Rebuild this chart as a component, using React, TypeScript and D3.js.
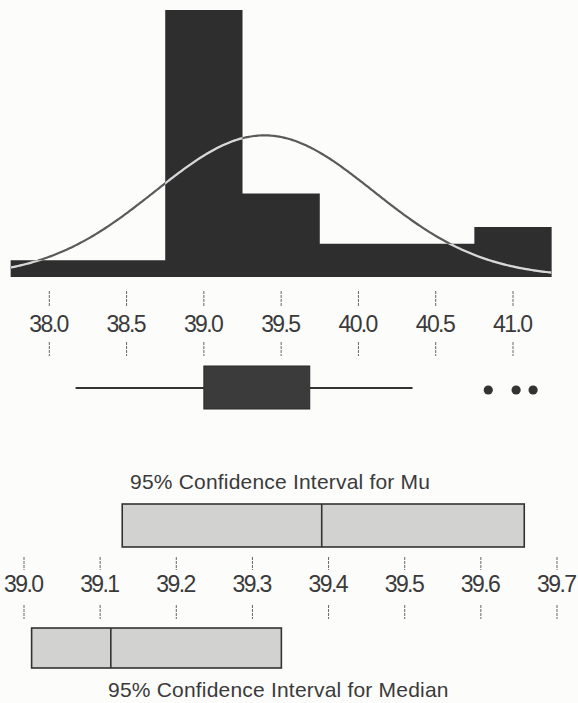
import React from "react";
import * as d3 from "d3";

// ---- data ----
const binCenters = [38.0, 38.5, 39.0, 39.5, 40.0, 40.5, 41.0];
const binCounts = [1, 1, 16, 5, 2, 2, 3];
const binWidth = 0.5;
const sampleSize = 30;
const fitMean = 39.391;
const fitSD = 0.705;

const topTicks = [38.0, 38.5, 39.0, 39.5, 40.0, 40.5, 41.0];

const boxQ1 = 39.0;
const boxQ3 = 39.685;
const whiskerLow = 38.17;
const whiskerHigh = 40.35;
const outliers = [40.84, 41.02, 41.13];

const muCI = [39.129, 39.657];
const muMean = 39.391;
const medianCI = [39.01, 39.338];
const medianValue = 39.114;
const ciTicks = [39.0, 39.1, 39.2, 39.3, 39.4, 39.5, 39.6, 39.7];

const W = 578;
const H = 703;

export default function App() {
  const x = d3.scaleLinear().domain([38, 41]).range([49.3, 513]);
  const y = d3.scaleLinear().domain([0, 16]).range([277, 10]);
  const xc = d3.scaleLinear().domain([39, 39.7]).range([24, 557]);

  const lo = binCenters[0] - binWidth / 2;
  const hi = binCenters[binCenters.length - 1] + binWidth / 2;
  const curvePts = d3.range(0, 301).map((i) => {
    const v = lo + ((hi - lo) * i) / 300;
    const z = (v - fitMean) / fitSD;
    const c = (sampleSize * binWidth * Math.exp(-0.5 * z * z)) / (fitSD * Math.sqrt(2 * Math.PI));
    return [v, c] as [number, number];
  });
  const line = d3
    .line<[number, number]>()
    .x((d) => x(d[0]))
    .y((d) => y(d[1]))
    .curve(d3.curveBasis);
  const path = line(curvePts) || "";

  // histogram outline as one stepped area (no seams between equal bars)
  const stepPts: [number, number][] = binCenters.map((c, i) => [c - binWidth / 2, binCounts[i]]);
  stepPts.push([hi, binCounts[binCounts.length - 1]]);
  const area = d3
    .area<[number, number]>()
    .x((d) => x(d[0]))
    .y0(y(0))
    .y1((d) => y(d[1]))
    .curve(d3.curveStepAfter);
  const histPath = area(stepPts) || "";

  const numFont = {
    fontFamily: "'Liberation Sans', Arial, sans-serif",
    fontSize: 23,
    fill: "#3a3a3a",
    letterSpacing: -1.6,
  } as const;
  const titleFont = {
    fontFamily: "'Liberation Sans', Arial, sans-serif",
    fontSize: 21,
    fill: "#3a3a3a",
    letterSpacing: 0.2,
  } as const;

  const boxMidY = 388;

  return (
    <svg
      width={W}
      height={H}
      style={{ position: "absolute", left: 0, top: 0, display: "block" }}
    >
      <rect x={0} y={0} width={W} height={H} fill="#fcfcfa" />
      <defs>
        <clipPath id="barsClip">
          <path d={histPath} />
        </clipPath>
      </defs>

      {/* histogram */}
      <path d={histPath} fill="#2e2e2e" />
      <path d={path} fill="none" stroke="#5a5a5a" strokeWidth={2.2} />
      <path d={path} fill="none" stroke="#d8d8d8" strokeWidth={2.2} clipPath="url(#barsClip)" />

      {/* top axis */}
      {topTicks.map((t) => (
        <g key={t}>
          <line x1={x(t)} x2={x(t)} y1={291} y2={306} stroke="#666" strokeWidth={1} strokeDasharray="3,1" />
          <text x={x(t) - 0.8} y={332} textAnchor="middle" {...numFont}>
            {t.toFixed(1)}
          </text>
          <line x1={x(t)} x2={x(t)} y1={342} y2={356} stroke="#666" strokeWidth={1} strokeDasharray="3,1" />
        </g>
      ))}

      {/* boxplot */}
      <line x1={x(whiskerLow)} x2={x(boxQ1)} y1={boxMidY} y2={boxMidY} stroke="#333" strokeWidth={2} />
      <line x1={x(boxQ3)} x2={x(whiskerHigh)} y1={boxMidY} y2={boxMidY} stroke="#333" strokeWidth={2} />
      <rect
        x={x(boxQ1)}
        y={366}
        width={x(boxQ3) - x(boxQ1)}
        height={43}
        fill="#3b3b3b"
        stroke="#2a2a2a"
        strokeWidth={1}
      />
      {outliers.map((o, i) => (
        <circle key={i} cx={x(o)} cy={boxMidY + 2} r={4.6} fill="#333" />
      ))}

      {/* Mu CI */}
      <text x={130} y={489} {...titleFont}>
        95% Confidence Interval for Mu
      </text>
      <rect
        x={xc(muCI[0])}
        y={504}
        width={xc(muCI[1]) - xc(muCI[0])}
        height={43}
        fill="#d2d2d0"
        stroke="#333"
        strokeWidth={1.6}
      />
      <line x1={xc(muMean)} x2={xc(muMean)} y1={504} y2={547} stroke="#333" strokeWidth={1.6} />

      {/* CI axis */}
      {ciTicks.map((t) => (
        <g key={t}>
          <line x1={xc(t)} x2={xc(t)} y1={557} y2={570} stroke="#666" strokeWidth={1} strokeDasharray="3,1" />
          <text x={xc(t) - 0.8} y={592} textAnchor="middle" {...numFont}>
            {t.toFixed(1)}
          </text>
          <line x1={xc(t)} x2={xc(t)} y1={605} y2={619} stroke="#666" strokeWidth={1} strokeDasharray="3,1" />
        </g>
      ))}

      {/* Median CI */}
      <rect
        x={xc(medianCI[0])}
        y={628}
        width={xc(medianCI[1]) - xc(medianCI[0])}
        height={40}
        fill="#d2d2d0"
        stroke="#333"
        strokeWidth={1.6}
      />
      <line x1={xc(medianValue)} x2={xc(medianValue)} y1={628} y2={668} stroke="#333" strokeWidth={1.6} />
      <text x={108} y={697} {...titleFont}>
        95% Confidence Interval for Median
      </text>
    </svg>
  );
}
